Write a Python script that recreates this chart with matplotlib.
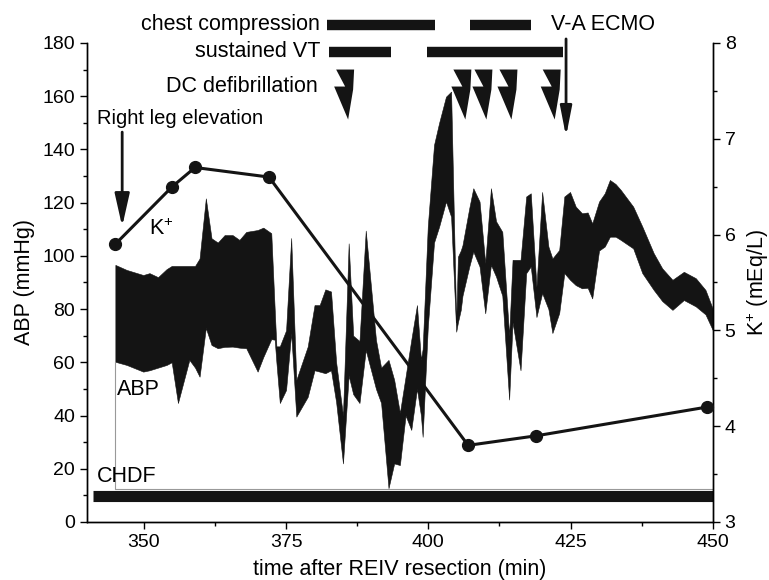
import numpy as np
import matplotlib
matplotlib.use("Agg")
import matplotlib.pyplot as plt
from matplotlib.patches import Polygon

plt.rcParams['font.family'] = ['Liberation Sans', 'DejaVu Sans']
plt.rcParams['mathtext.default'] = 'regular'

# ABP band (systolic / diastolic envelope), time in min
abp_t = [345.0, 347.0, 349.9, 351.0, 352.5, 354.0, 354.9, 356.0, 358.0, 359.0,
         359.8, 360.9, 361.9, 363.0, 364.2, 365.6, 366.8, 368.0, 370.0, 371.0,
         372.4, 373.0, 373.3, 373.9, 375.0, 375.9, 376.8, 378.8, 380.0, 380.9,
         381.9, 382.9, 383.8, 385.0, 386.0, 386.8, 387.9, 389.0, 390.8, 391.7,
         393.0, 394.0, 395.0, 396.0, 397.0, 398.0, 398.7, 399.0, 399.9, 401.0,
         401.9, 403.1, 404.0, 404.9, 405.2, 405.7, 406.0, 407.2, 407.9, 409.0,
         410.0, 411.0, 411.9, 413.0, 414.2, 414.8, 416.2, 417.2, 418.0, 419.0,
         420.0, 421.1, 421.8, 423.0, 423.9, 424.9, 425.9, 427.0, 428.0, 428.8,
         430.0, 431.0, 431.9, 432.9, 433.8, 436.0, 437.6, 439.6, 441.1, 442.9,
         444.9, 447.0, 448.7, 450.0]
abp_sys = [96.6, 94.7, 92.8, 93.5, 92.0, 95.0, 96.2, 96.2, 96.2, 96.2,
           99.0, 121.6, 106.6, 105.0, 107.8, 107.8, 106.0, 109.0, 109.7, 110.6,
           108.5, 80.0, 66.0, 66.0, 72.0, 106.7, 53.4, 65.9, 81.5, 81.5,
           87.4, 86.6, 60.0, 40.0, 104.7, 70.0, 68.0, 109.5, 68.4, 58.0,
           60.9, 53.4, 41.0, 54.6, 68.4, 81.5, 61.0, 65.0, 111.0, 141.7,
           150.0, 159.8, 161.7, 75.0, 99.7, 102.0, 104.0, 118.0, 125.4, 120.4,
           97.3, 125.4, 113.0, 109.0, 70.0, 98.5, 98.5, 122.3, 123.5, 88.4,
           124.0, 103.5, 99.0, 102.2, 122.3, 124.0, 118.5, 116.0, 116.3, 112.2,
           120.4, 123.5, 128.5, 127.0, 124.8, 118.5, 111.0, 101.0, 95.3, 91.0,
           94.0, 91.6, 87.2, 80.0]
abp_dia = [60.2, 59.0, 56.5, 57.0, 58.0, 59.0, 60.0, 44.7, 60.9, 58.0,
           54.6, 72.9, 66.5, 65.3, 65.8, 65.9, 65.5, 65.3, 56.5, 62.0,
           68.7, 68.5, 60.0, 44.7, 49.6, 71.0, 39.6, 47.0, 57.0, 56.5,
           55.9, 57.0, 45.0, 22.0, 55.0, 48.0, 44.7, 64.6, 50.0, 44.7,
           12.7, 22.0, 21.4, 40.0, 34.6, 50.0, 40.0, 32.0, 73.0, 105.0,
           111.0, 120.4, 114.7, 71.5, 75.0, 79.7, 85.0, 96.0, 101.6, 96.0,
           78.4, 96.6, 92.2, 85.0, 46.0, 75.0, 57.0, 93.5, 96.0, 77.0,
           86.0, 80.0, 71.0, 78.5, 93.5, 91.0, 89.0, 87.8, 88.0, 84.0,
           102.0, 103.5, 107.2, 107.2, 106.0, 102.8, 93.5, 87.2, 83.0, 79.7,
           83.4, 81.0, 78.0, 72.0]

# serum potassium
k_t = [345, 355, 359, 372, 407, 419, 449]
k_val = [5.9, 6.5, 6.7, 6.6, 3.8, 3.9, 4.2]

# events (min)
chest_comp = [(382.2, 401.1), (407.4, 418.1)]
sustained_vt = [(382.6, 393.5), (399.8, 423.6)]
dc_shocks = [383.8, 404.4, 408.1, 412.5, 420.1]
ecmo_start = 424.2
leg_elev = 346.2
chdf = (341.0, 450.0)

fig = plt.figure(figsize=(7.69, 5.8), dpi=100)
ax = fig.add_axes([0.113, 0.1, 0.814, 0.826])
ax2 = ax.twinx()

blk = '#141414'
ax.fill_between(abp_t, abp_dia, abp_sys, color=blk, lw=0.4, edgecolor=blk)
# thin baseline frame of the band
ax.plot([345, 345, 450], [60.2, 12.3, 12.3], color='#999999', lw=0.8)

# CHDF bar
ax.hlines(9.6, chdf[0], chdf[1], color=blk, lw=8, clip_on=False)

# top event bars
for a, b in chest_comp:
    ax.hlines(186.8, a, b, color=blk, lw=7.5, clip_on=False)
for a, b in sustained_vt:
    ax.hlines(176.6, a, b, color=blk, lw=7.5, clip_on=False)

# lightning bolts for DC defibrillation (shape in pixels, y downward)
bolt = [(0, 0), (18, 0), (17, 20), (12, 50), (-2, 17), (9, 17)]
for t0 in dc_shocks:
    pts = [(t0 + dx / 5.7, 170.0 - dy / 2.661) for dx, dy in bolt]
    ax.add_patch(Polygon(pts, closed=True, color=blk, lw=0, clip_on=False))

# arrows
ax.annotate('', xy=(ecmo_start, 144.8), xytext=(ecmo_start, 181.5),
            arrowprops=dict(arrowstyle='-|>,head_length=1.8,head_width=0.35',
                            mutation_scale=10, lw=2, color=blk,
                            shrinkA=0, shrinkB=0), annotation_clip=False)
ax.annotate('', xy=(leg_elev, 111), xytext=(leg_elev, 146.5),
            arrowprops=dict(arrowstyle='-|>,head_length=2.0,head_width=0.45',
                            mutation_scale=10, lw=2, color=blk,
                            shrinkA=0, shrinkB=0), annotation_clip=False)

fs = 15.5
ax.text(381.0, 187.0, 'chest compression', ha='right', va='center', fontsize=fs, clip_on=False)
ax.text(381.0, 176.6, 'sustained VT', ha='right', va='center', fontsize=fs, clip_on=False)
ax.text(380.5, 163.6, 'DC defibrillation', ha='right', va='center', fontsize=fs, clip_on=False)
ax.text(421.6, 187.0, 'V-A ECMO', ha='left', va='center', fontsize=fs, clip_on=False)
ax.text(341.7, 151.6, 'Right leg elevation', ha='left', va='center', fontsize=14.5)
ax.text(350.9, 110.0, 'K$^{+}$', ha='left', va='center', fontsize=fs)
ax.text(345.3, 49.6, 'ABP', ha='left', va='center', fontsize=fs)
ax.text(341.7, 17.0, 'CHDF', ha='left', va='center', fontsize=fs)

# potassium line
ax2.plot(k_t, k_val, color=blk, lw=2.2, marker='o', ms=8.5, clip_on=False, zorder=5)

ax.set_xlim(340, 450)
ax.set_ylim(0, 180)
ax2.set_ylim(3, 8)
ax.set_xticks([350, 375, 400, 425, 450])
ax.set_xticks(np.arange(362.5, 450, 25), minor=True)
ax.set_yticks(np.arange(0, 181, 20))
ax.set_yticks(np.arange(10, 180, 20), minor=True)
ax2.set_yticks(np.arange(3, 9, 1))
ax2.set_yticks(np.arange(3.5, 8, 1), minor=True)

for a in (ax, ax2):
    a.spines['top'].set_visible(False)
    a.tick_params(which='major', direction='out', length=5, width=1, labelsize=14)
    a.tick_params(which='minor', direction='out', length=3, width=1)
    for s in a.spines.values():
        s.set_linewidth(1)

ax.set_xlabel('time after REIV resection (min)', fontsize=15.5, labelpad=6)
ax.set_ylabel('ABP (mmHg)', fontsize=15.5, labelpad=5)
ax2.set_ylabel('K$^{+}$ (mEq/L)', fontsize=15.5, labelpad=6)

fig.savefig('out.png', dpi=100)
